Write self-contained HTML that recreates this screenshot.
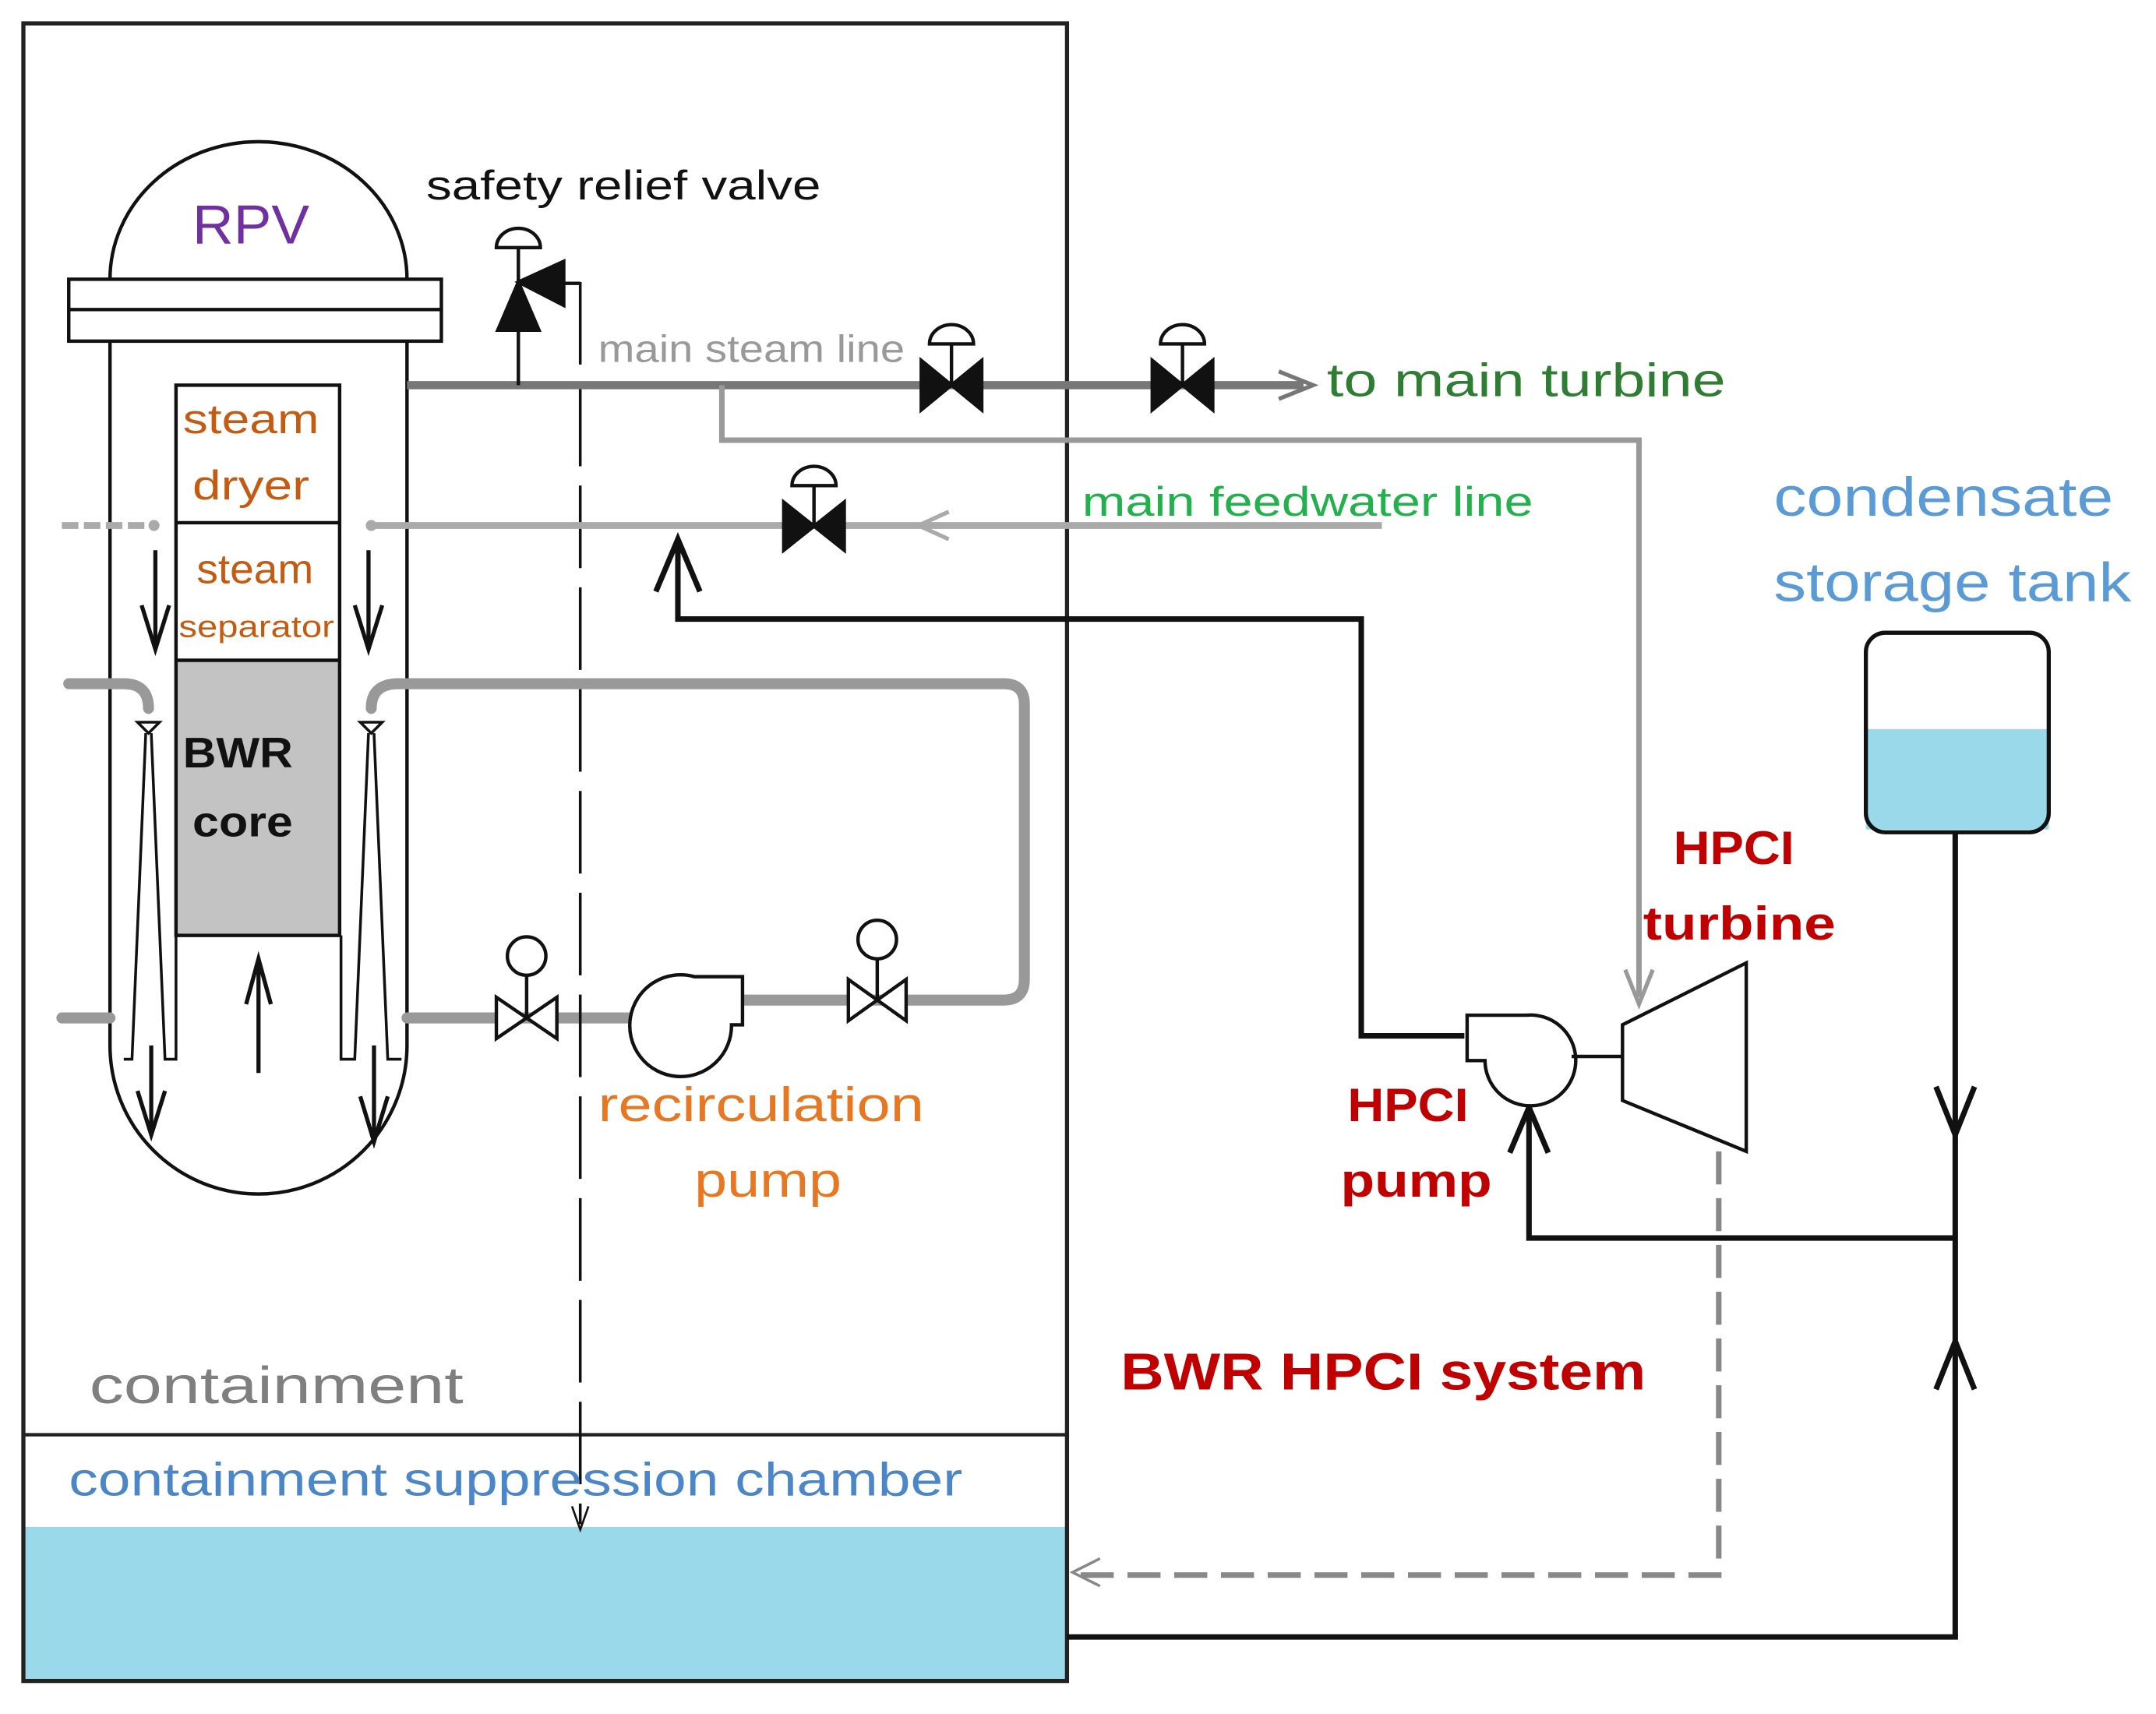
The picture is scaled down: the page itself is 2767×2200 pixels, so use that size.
<!DOCTYPE html>
<html><head><meta charset="utf-8"><style>html,body{margin:0;padding:0;background:#fff}svg{display:block}</style></head><body>
<svg width="2767" height="2200" viewBox="0 0 1568 1246" preserveAspectRatio="none" xmlns="http://www.w3.org/2000/svg" font-family="Liberation Sans, sans-serif">
<rect width="1568" height="1246" fill="#fff"/>
<rect x="17" y="1110" width="759" height="112" fill="#99d9ea"/>
<rect x="17" y="17" width="759" height="1205" fill="none" stroke="#222" stroke-width="3"/>
<line x1="17" y1="1043" x2="776" y2="1043" stroke="#222" stroke-width="2.5"/>
<path d="M80,203 A108,100 0 0 1 296,203" fill="none" stroke="#111" stroke-width="2.5"/>
<rect x="50" y="203" width="271" height="45" fill="#fff" stroke="#111" stroke-width="2.5"/>
<line x1="50" y1="225" x2="321" y2="225" stroke="#111" stroke-width="2.5"/>
<path d="M80,248 L80,760 A108,108 0 0 0 296,760 L296,248" fill="none" stroke="#111" stroke-width="2.5"/>
<rect x="128" y="480" width="119" height="200" fill="#c3c3c3"/>
<rect x="128" y="280" width="119" height="400" fill="none" stroke="#111" stroke-width="2.5"/>
<line x1="128" y1="380" x2="247" y2="380" stroke="#111" stroke-width="2.5"/>
<line x1="128" y1="480" x2="247" y2="480" stroke="#111" stroke-width="2.5"/>
<text x="140" y="177" font-size="40" fill="#7030a0" textLength="85" lengthAdjust="spacingAndGlyphs">RPV</text>
<g font-size="30" fill="#c55a11"><text x="133" y="315" textLength="99" lengthAdjust="spacingAndGlyphs">steam</text><text x="140" y="363" textLength="85" lengthAdjust="spacingAndGlyphs">dryer</text><text x="143" y="424" textLength="85" lengthAdjust="spacingAndGlyphs">steam</text><text x="130" y="463" font-size="22" textLength="113" lengthAdjust="spacingAndGlyphs">separator</text></g>
<g font-size="31" font-weight="bold" fill="#111"><text x="133" y="558" textLength="80" lengthAdjust="spacingAndGlyphs">BWR</text><text x="140" y="608" textLength="73" lengthAdjust="spacingAndGlyphs">core</text></g>
<g stroke="#111" stroke-width="3" fill="none">
<line x1="113" y1="400" x2="113" y2="470"/><path d="M103,440 L113,472 L123,440"/>
<line x1="268" y1="400" x2="268" y2="470"/><path d="M258,440 L268,472 L278,440"/>
<line x1="188" y1="780" x2="188" y2="700"/><path d="M179,730 L188,697 L197,730"/>
<line x1="110" y1="760" x2="110" y2="822"/><path d="M100,793 L110,825 L120,793"/>
<line x1="272" y1="760" x2="272" y2="828"/><path d="M262,797 L272,830 L282,797"/>
</g>
<g stroke="#111" stroke-width="2" fill="none">
<path d="M100,525 L116,525 L108,533 Z"/><path d="M262,525 L278,525 L270,533 Z"/>
<path d="M106,533 L96,770 L90,770 M110,533 L120,770 L128,770 L128,680"/>
<path d="M268,533 L258,770 L248,770 L248,680 M272,533 L282,770 L292,770"/>
</g>
<g stroke="#999" stroke-width="8" fill="none" stroke-linecap="round">
<path d="M50,497 L90,497 Q108,497 108,515"/>
<path d="M270,515 Q270,497 290,497 L730,497 Q745,497 745,512 L745,712 Q745,727 730,727 L540,727"/>
<line x1="45" y1="740" x2="80" y2="740"/>
<line x1="296" y1="740" x2="465" y2="740"/>
</g>
<g stroke="#111" stroke-width="2.5" fill="#fff">
<path d="M361,725 L405,755 L405,725 L361,755 Z"/><line x1="383" y1="740" x2="383" y2="710"/><circle cx="383" cy="695" r="14"/>
<path d="M617,712 L659,742 L659,712 L617,742 Z"/><line x1="638" y1="727" x2="638" y2="697"/><circle cx="638" cy="683" r="14"/>
<path d="M540,710 L505,710 A37,37 0 1 0 532,745 L540,745 Z" fill="#fff"/>
</g>
<text x="435" y="815" font-size="35" fill="#e87722" textLength="237" lengthAdjust="spacingAndGlyphs">recirculation</text>
<text x="505" y="870" font-size="35" fill="#e87722" textLength="107" lengthAdjust="spacingAndGlyphs">pump</text>
<line x1="422" y1="205" x2="422" y2="1108" stroke="#111" stroke-width="2" stroke-dasharray="60,14"/>
<path d="M416,1095 L422,1112 L428,1095" fill="none" stroke="#111" stroke-width="1.5"/>
<line x1="270" y1="382" x2="1005" y2="382" stroke="#aaa" stroke-width="5"/>
<line x1="45" y1="382" x2="112" y2="382" stroke="#aaa" stroke-width="5" stroke-dasharray="12,4"/>
<circle cx="112" cy="382" r="4" fill="#aaa"/><circle cx="270" cy="382" r="4" fill="#aaa"/>
<path d="M690,372 L668,382 L690,392" fill="none" stroke="#aaa" stroke-width="3"/>
<text x="787" y="375" font-size="30" fill="#22b14c" textLength="328" lengthAdjust="spacingAndGlyphs">main feedwater line</text>
<line x1="296" y1="280" x2="948" y2="280" stroke="#777" stroke-width="6"/>
<path d="M930,270 L955,280 L930,290" fill="none" stroke="#777" stroke-width="3"/>
<text x="965" y="288" font-size="34" fill="#2e7d32" textLength="290" lengthAdjust="spacingAndGlyphs">to main turbine</text>
<text x="435" y="263" font-size="28" fill="#999" textLength="223" lengthAdjust="spacingAndGlyphs">main steam line</text>
<path d="M525,280 L525,320 L1192,320 L1192,725" fill="none" stroke="#999" stroke-width="4"/>
<path d="M1182,705 L1192,730 L1202,705" fill="none" stroke="#999" stroke-width="3"/>
<g fill="#111" stroke="#111" stroke-width="2.5">
<path d="M670,262 L714,298 L714,262 L670,298 Z"/><line x1="692" y1="280" x2="692" y2="250"/><path d="M676,250 A16,14 0 0 1 708,250 Z" fill="#fff"/>
<path d="M838,262 L882,298 L882,262 L838,298 Z"/><line x1="860" y1="280" x2="860" y2="250"/><path d="M844,250 A16,14 0 0 1 876,250 Z" fill="#fff"/>
<path d="M570,365 L614,400 L614,365 L570,400 Z"/><line x1="592" y1="382" x2="592" y2="353"/><path d="M576,353 A16,14 0 0 1 608,353 Z" fill="#fff"/>
</g>
<g stroke="#111" stroke-width="2.5">
<line x1="377" y1="280" x2="377" y2="178"/>
<path d="M362,240 L377,205 L392,240 Z" fill="#111"/>
<path d="M377,205 L410,190 L410,222 Z" fill="#111"/>
<path d="M410,206 L422,206" fill="none"/>
<path d="M361,180 A16,14 0 0 1 393,180 Z" fill="#fff"/>
</g>
<text x="310" y="145" font-size="30" fill="#111" textLength="287" lengthAdjust="spacingAndGlyphs">safety relief valve</text>
<g stroke="#111" stroke-width="4" fill="none">
<path d="M493,395 L493,450 L990,450 L990,753 L1065,753"/>
<path d="M477,430 L493,392 L509,430"/>
<path d="M1112,803 L1112,900 L1422,900"/>
<path d="M1098,838 L1112,805 L1126,838"/>
<line x1="1422" y1="605" x2="1422" y2="1190"/>
<path d="M1408,790 L1422,825 L1436,790"/>
<path d="M1408,1010 L1422,975 L1436,1010"/>
<line x1="776" y1="1190" x2="1424" y2="1190"/>
</g>
<g stroke="#111" stroke-width="2.5" fill="#fff">
<path d="M1110,738 L1067,738 L1067,771 L1080,771 A33,33 0 1 0 1110,738 Z"/>
<line x1="1143" y1="768" x2="1180" y2="768"/>
<path d="M1180,745 L1270,700 L1270,837 L1180,800 Z"/>
</g>
<path d="M1250,837 L1250,1145 L785,1145" fill="none" stroke="#888" stroke-width="4" stroke-dasharray="24,10"/>
<path d="M800,1133 L780,1143 L800,1153" fill="none" stroke="#888" stroke-width="2"/>
<rect x="1357" y="530" width="133" height="73" fill="#99d9ea"/>
<rect x="1357" y="460" width="133" height="145" rx="14" fill="none" stroke="#111" stroke-width="3"/>
<g fill="#c00000" font-weight="bold" font-size="34">
<text x="1217" y="628" textLength="88" lengthAdjust="spacingAndGlyphs">HPCI</text><text x="1195" y="683" textLength="140" lengthAdjust="spacingAndGlyphs">turbine</text>
<text x="980" y="815" textLength="88" lengthAdjust="spacingAndGlyphs">HPCI</text><text x="975" y="870" textLength="110" lengthAdjust="spacingAndGlyphs">pump</text>
<text x="815" y="1010" font-size="38" textLength="382" lengthAdjust="spacingAndGlyphs">BWR HPCI system</text>
</g>
<g fill="#5b9bd5" font-size="40"><text x="1290" y="375" textLength="247" lengthAdjust="spacingAndGlyphs">condensate</text><text x="1290" y="437" textLength="260" lengthAdjust="spacingAndGlyphs">storage tank</text></g>
<text x="65" y="1020" font-size="38" fill="#7f7f7f" textLength="272" lengthAdjust="spacingAndGlyphs">containment</text>
<text x="50" y="1087" font-size="34" fill="#4a86c8" textLength="650" lengthAdjust="spacingAndGlyphs">containment suppression chamber</text>
</svg>
</body></html>
